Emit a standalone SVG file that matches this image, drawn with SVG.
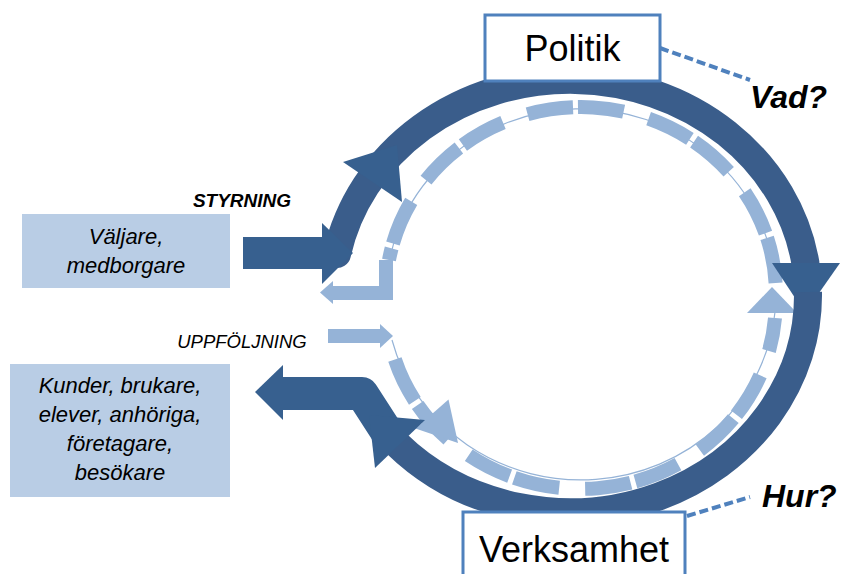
<svg xmlns="http://www.w3.org/2000/svg" width="841" height="574" viewBox="0 0 841 574">
<style>
.ring{fill:none;stroke:#3a5d8b;stroke-width:28}
.dk{fill:#37608f}
.lt{fill:#95b3d7}
.ltdash{fill:none;stroke:#95b3d7;stroke-width:14;stroke-dasharray:46 5 46 26}
.thin{fill:none;stroke:#95b3d7;stroke-width:1.2}
.box{fill:#b9cde5}
.wbox{fill:#ffffff;stroke:#4f81bd;stroke-width:3}
.conn{fill:none;stroke:#4f81bd;stroke-width:4;stroke-dasharray:9 4}
text{font-family:"Liberation Sans",Arial,sans-serif;fill:#000}
.it{font-style:italic;font-size:22px}
.big{font-size:36px}
.q{font-style:italic;font-weight:bold;font-size:32px}
</style>
<g id="connectors">
  <!-- light thin guide lines -->
  <path class="thin" d="M 775.6 283 A 195 186 0 0 0 386 294"/>
  <path class="thin" d="M 392 340 A 195 186 0 0 0 775 312"/>
  <!-- light dashed upper arc with elbow back to the left -->
  <path class="ltdash" d="M 775.6 283 A 195 186 0 0 0 389 260"/>
  <path fill="none" stroke="#95b3d7" stroke-width="14" d="M 386 260 L 386 293 L 332 293"/>
  <polygon class="lt" points="320,292.5 333,281 333,304"/>
  <!-- light UPPFOLJNING arrow -->
  <rect class="lt" x="328" y="329" width="54" height="14"/>
  <polygon class="lt" points="380,324 380,348 393,336"/>
  <!-- light dashed lower arc -->
  <path class="ltdash" style="stroke-dashoffset:-10" d="M 392 350 A 195 186 0 0 0 775 318"/>
  <polygon class="lt" points="415.5,428.6 448.5,399.4 458,443"/>
  <polygon class="lt" points="747,313 797,313 772,287"/>
  <!-- dark styrning arrow -->
  <rect class="dk" x="243" y="237" width="82" height="32"/>
  <!-- dark top arc -->
  <path class="ring" stroke-linecap="round" d="M 337 254 A 238 217 0 0 1 805.4 263"/>
  <polygon class="dk" points="322,223 322,284 353,253"/>
  <polygon class="dk" points="343,162 402,202 397,145"/>
  <polygon class="dk" points="772,263 840,263 805,313"/>
  <!-- dark bottom arc -->
  <path class="ring" d="M 808 292 A 238 217 0 0 1 396.5 443.6"/>
  <path fill="none" stroke="#37608f" stroke-width="33" stroke-linejoin="round" d="M 280 393.5 L 362 393.5 L 392 440"/>
  <polygon class="dk" points="375,468 425,420 369,415"/>
  <polygon class="dk" points="255,392 283,365 283,420"/>
  <!-- question connectors -->
  <path class="conn" d="M 660 48 L 750 80"/>
  <path class="conn" d="M 687 516 L 750 497"/>
</g>
<g id="politik">
  <rect class="wbox" x="485" y="15" width="175" height="66"/>
  <text class="big" x="572.5" y="61" text-anchor="middle">Politik</text>
</g>
<g id="verksamhet">
  <rect class="wbox" x="463" y="512" width="222" height="80"/>
  <text class="big" x="574" y="562" text-anchor="middle">Verksamhet</text>
</g>
<g id="vad">
  <text class="q" x="750" y="108">Vad?</text>
</g>
<g id="hur">
  <text class="q" x="762" y="507">Hur?</text>
</g>
<g id="valjare">
  <rect class="box" x="22" y="214" width="208" height="74"/>
  <text class="it" x="126" y="244" text-anchor="middle">Väljare,</text>
  <text class="it" x="126" y="273" text-anchor="middle">medborgare</text>
</g>
<g id="kunder">
  <rect class="box" x="10" y="364" width="220" height="133"/>
  <text class="it" x="120" y="393" text-anchor="middle">Kunder, brukare,</text>
  <text class="it" x="120" y="422" text-anchor="middle">elever, anhöriga,</text>
  <text class="it" x="120" y="451" text-anchor="middle">företagare,</text>
  <text class="it" x="120" y="480" text-anchor="middle">besökare</text>
</g>
<g id="styrning">
  <text x="242" y="207" text-anchor="middle" font-style="italic" font-weight="bold" font-size="19">STYRNING</text>
</g>
<g id="uppfoljning">
  <text x="242" y="348" text-anchor="middle" font-style="italic" font-size="18.5">UPPFÖLJNING</text>
</g>
</svg>
